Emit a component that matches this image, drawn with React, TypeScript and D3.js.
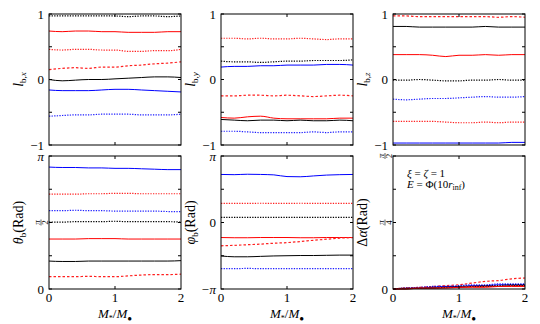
import React from 'react';
import * as d3 from 'd3';

// sample positions along M*/M•
const massRatio = [0, 0.2, 0.4, 0.6, 0.8, 1.0, 1.2, 1.4, 1.6, 1.8, 2.0];

// line styles: colour + dash
const STYLES: Record<string, { color: string; dash: string | null }> = {
  redSolid: { color: '#ff0000', dash: null },
  redDot: { color: '#ff2020', dash: '1.3,1.3' },
  redDash: { color: '#ff2020', dash: '2.5,2' },
  blackSolid: { color: '#000000', dash: null },
  blackDot: { color: '#000000', dash: '1.3,1.3' },
  blueSolid: { color: '#0000ff', dash: null },
  blueDot: { color: '#2020ff', dash: '1.3,1.3' },
};

const lbx = {
  blackDot: [0.97, 0.97, 0.97, 0.97, 0.97, 0.97, 0.96, 0.97, 0.97, 0.96, 0.97],
  redSolid: [0.74, 0.73, 0.74, 0.74, 0.73, 0.73, 0.72, 0.72, 0.72, 0.73, 0.73],
  redDot: [0.46, 0.45, 0.46, 0.46, 0.45, 0.45, 0.43, 0.43, 0.44, 0.44, 0.46],
  redDash: [0.15, 0.17, 0.18, 0.17, 0.19, 0.19, 0.21, 0.22, 0.24, 0.25, 0.27],
  blackSolid: [0.0, -0.02, -0.01, 0.0, 0.0, 0.01, 0.02, 0.03, 0.04, 0.04, 0.03],
  blueSolid: [-0.16, -0.17, -0.17, -0.17, -0.16, -0.15, -0.15, -0.16, -0.17, -0.18, -0.19],
  blueDot: [-0.56, -0.55, -0.54, -0.54, -0.53, -0.53, -0.53, -0.54, -0.54, -0.54, -0.53],
};

const lby = {
  redDot: [0.63, 0.63, 0.62, 0.63, 0.62, 0.62, 0.63, 0.62, 0.61, 0.62, 0.62],
  blackDot: [0.28, 0.27, 0.27, 0.26, 0.27, 0.28, 0.28, 0.29, 0.29, 0.29, 0.3],
  blueSolid: [0.19, 0.2, 0.2, 0.21, 0.21, 0.22, 0.22, 0.22, 0.23, 0.23, 0.22],
  redDash: [-0.25, -0.25, -0.24, -0.24, -0.25, -0.24, -0.25, -0.26, -0.25, -0.24, -0.25],
  redSolid: [-0.58, -0.59, -0.57, -0.56, -0.59, -0.6, -0.6, -0.6, -0.6, -0.59, -0.59],
  blackSolid: [-0.61, -0.62, -0.63, -0.62, -0.62, -0.63, -0.62, -0.63, -0.63, -0.62, -0.63],
  blueDot: [-0.79, -0.79, -0.8, -0.81, -0.81, -0.81, -0.81, -0.8, -0.81, -0.8, -0.8],
};

const lbz = {
  redDash: [0.97, 0.97, 0.96, 0.96, 0.96, 0.96, 0.96, 0.96, 0.95, 0.96, 0.95],
  blackSolid: [0.81, 0.81, 0.8, 0.8, 0.8, 0.8, 0.8, 0.81, 0.8, 0.8, 0.8],
  redSolid: [0.38, 0.38, 0.38, 0.37, 0.35, 0.37, 0.37, 0.38, 0.37, 0.38, 0.38],
  blackDot: [-0.01, -0.01, -0.0, -0.01, -0.02, -0.02, -0.01, -0.01, -0.0, -0.01, -0.01],
  blueDot: [-0.3, -0.31, -0.3, -0.29, -0.29, -0.28, -0.27, -0.26, -0.27, -0.27, -0.26],
  redDot: [-0.64, -0.64, -0.64, -0.64, -0.65, -0.66, -0.66, -0.65, -0.66, -0.65, -0.65],
  blueSolid: [-0.97, -0.97, -0.97, -0.97, -0.97, -0.97, -0.97, -0.97, -0.97, -0.96, -0.96],
};

// radians
const thetaB = {
  blueSolid: [2.88, 2.87, 2.87, 2.86, 2.86, 2.85, 2.85, 2.84, 2.83, 2.82, 2.82],
  redDot: [2.24, 2.24, 2.24, 2.25, 2.25, 2.26, 2.26, 2.25, 2.25, 2.25, 2.25],
  blueDot: [1.85, 1.85, 1.86, 1.85, 1.85, 1.84, 1.84, 1.84, 1.84, 1.83, 1.83],
  blackDot: [1.58, 1.58, 1.59, 1.59, 1.59, 1.6, 1.59, 1.59, 1.59, 1.59, 1.58],
  redSolid: [1.18, 1.18, 1.18, 1.19, 1.19, 1.19, 1.18, 1.18, 1.18, 1.18, 1.18],
  blackSolid: [0.66, 0.65, 0.65, 0.66, 0.66, 0.66, 0.66, 0.66, 0.66, 0.66, 0.67],
  redDash: [0.29, 0.29, 0.29, 0.3, 0.29, 0.29, 0.31, 0.33, 0.34, 0.34, 0.35],
};

const phiB = {
  blueSolid: [2.27, 2.26, 2.28, 2.27, 2.25, 2.17, 2.16, 2.2, 2.24, 2.26, 2.27],
  redDot: [0.9, 0.9, 0.9, 0.91, 0.9, 0.9, 0.91, 0.9, 0.9, 0.9, 0.9],
  blackDot: [0.24, 0.24, 0.24, 0.24, 0.24, 0.24, 0.24, 0.24, 0.24, 0.24, 0.24],
  redSolid: [-0.71, -0.72, -0.72, -0.71, -0.71, -0.71, -0.72, -0.72, -0.71, -0.71, -0.71],
  redDash: [-1.1, -1.08, -1.05, -1.02, -0.98, -0.95, -0.9, -0.84, -0.79, -0.74, -0.71],
  blackSolid: [-1.58, -1.62, -1.62, -1.6, -1.58, -1.57, -1.56, -1.56, -1.55, -1.54, -1.54],
  blueDot: [-2.18, -2.18, -2.17, -2.18, -2.18, -2.18, -2.18, -2.18, -2.18, -2.18, -2.18],
};

const deltaAlpha = {
  redDash: [0.0, 0.01, 0.02, 0.03, 0.04, 0.05, 0.07, 0.09, 0.1, 0.12, 0.13],
  blueDot: [0.0, 0.01, 0.02, 0.03, 0.03, 0.04, 0.05, 0.05, 0.06, 0.06, 0.06],
  blueSolid: [0.0, 0.01, 0.01, 0.02, 0.03, 0.03, 0.04, 0.04, 0.05, 0.05, 0.05],
  blackDot: [0.0, 0.01, 0.01, 0.02, 0.02, 0.03, 0.03, 0.04, 0.04, 0.05, 0.05],
  blackSolid: [0.0, 0.0, 0.01, 0.01, 0.02, 0.02, 0.03, 0.03, 0.03, 0.04, 0.04],
  redDot: [0.0, 0.01, 0.01, 0.01, 0.02, 0.02, 0.03, 0.03, 0.03, 0.04, 0.04],
  redSolid: [0.0, 0.0, 0.01, 0.01, 0.01, 0.02, 0.02, 0.02, 0.03, 0.03, 0.03],
};

const PI = Math.PI;
const FONT = '"Liberation Serif", "DejaVu Serif", serif';

const COLS = [49, 221, 393];
const PW = 132;
const ROWS = [{ y0: 14, h: 131 }, { y0: 156, h: 133 }];

type TickLabel = { v: number; text: string; frac?: boolean };

const Frac = ({ x, y, num, den }: { x: number; y: number; num: string; den: string }) => (
  <g transform={`translate(${x},${y}) rotate(-90)`} fontFamily={FONT} fontSize={9}>
    <text x={0} y={-1.5} textAnchor="middle" fontStyle="italic">{num}</text>
    <line x1={-3} x2={3} y1={0} y2={0} stroke="#000" strokeWidth={0.6} />
    <text x={0} y={7} textAnchor="middle">{den}</text>
  </g>
);

const Panel = ({ col, row, domain, ticks, labels, data, ylabel, xlabel }: any) => {
  const x0 = COLS[col];
  const { y0, h } = ROWS[row];
  const x = d3.scaleLinear().domain([0, 2]).range([x0, x0 + PW]);
  const y = d3.scaleLinear().domain(domain).range([y0 + h, y0]);
  const line = d3.line<number>().x((_, i) => x(massRatio[i])).y(d => y(d)).curve(d3.curveMonotoneX);
  return (
    <g>
      {Object.entries(data).map(([k, vals]: any) => (
        <path key={k} d={line(vals) || ''} fill="none" stroke={STYLES[k].color}
          strokeWidth={STYLES[k].dash ? 1.2 : 1} strokeDasharray={STYLES[k].dash || undefined} />
      ))}
      <rect x={x0} y={y0} width={PW} height={h} fill="none" stroke="#000" strokeWidth={1} />
      {[1].map(v => (
        <g key={v}>
          <line x1={x(v)} x2={x(v)} y1={y0 + h} y2={y0 + h - 3} stroke="#000" />
          <line x1={x(v)} x2={x(v)} y1={y0} y2={y0 + 3} stroke="#000" />
        </g>
      ))}
      {ticks.map((v: number) => (
        <g key={v}>
          <line x1={x0} x2={x0 + 3} y1={y(v)} y2={y(v)} stroke="#000" />
          <line x1={x0 + PW} x2={x0 + PW - 3} y1={y(v)} y2={y(v)} stroke="#000" />
        </g>
      ))}
      {labels.map((l: TickLabel) => l.frac ? (
        <Frac key={l.text} x={x0 - 8} y={y(l.v)} num="π" den={l.text} />
      ) : (
        <text key={l.text} x={x0 - 5} y={y(l.v) + 4.5} textAnchor="end" fontFamily={FONT}
          fontSize={13} fontStyle={l.text.includes('π') ? 'italic' : 'normal'}>{l.text}</text>
      ))}
      <text transform={`translate(${x0 - 26},${y0 + h / 2}) rotate(-90)`} textAnchor="middle"
        fontFamily={FONT} fontSize={14}>{ylabel}</text>
      {xlabel && (
        <g fontFamily={FONT} fontSize={13}>
          {[0, 1, 2].map(v => (
            <text key={v} x={x(v)} y={y0 + h + 13} textAnchor="middle">{v}</text>
          ))}
          <text x={x0 + PW / 2} y={y0 + h + 29} textAnchor="middle">
            <tspan fontStyle="italic">M</tspan><tspan fontSize={8} dy={3}>*</tspan>
            <tspan dy={-3}>/</tspan><tspan fontStyle="italic">M</tspan>
            <tspan fontSize={8} dy={3}>●</tspan>
          </text>
        </g>
      )}
    </g>
  );
};

const lLabel = (s: string) => (
  <>
    <tspan fontStyle="italic">l</tspan>
    <tspan fontSize={9} dy={3}>b,</tspan><tspan fontSize={9} fontStyle="italic">{s}</tspan>
  </>
);

const radLabel = (sym: string, sub?: string) => (
  <>
    <tspan fontStyle={sym === 'Δα' ? 'normal' : 'italic'}>{sym === 'Δα' ? 'Δ' : sym}</tspan>
    {sym === 'Δα' && <tspan fontStyle="italic">α</tspan>}
    {sub && <tspan fontSize={9} dy={3}>{sub}</tspan>}
    <tspan dy={sub ? -3 : 0}>(Rad)</tspan>
  </>
);

const unitTicks = [-1, -0.5, 0, 0.5, 1];
const unitLabels: TickLabel[] = [{ v: 1, text: '1' }, { v: 0, text: '0' }, { v: -1, text: '−1' }];

export default function App() {
  return (
    <svg width={540} height={324} style={{ position: 'absolute', left: 0, top: 0, background: '#fff' }}>
      <Panel col={0} row={0} domain={[-1, 1]} ticks={unitTicks} labels={unitLabels} data={lbx} ylabel={lLabel('x')} />
      <Panel col={1} row={0} domain={[-1, 1]} ticks={unitTicks} labels={unitLabels} data={lby} ylabel={lLabel('y')} />
      <Panel col={2} row={0} domain={[-1, 1]} ticks={unitTicks} labels={unitLabels} data={lbz} ylabel={lLabel('z')} />
      <Panel col={0} row={1} domain={[0, PI]} ticks={[0, PI / 4, PI / 2, 3 * PI / 4, PI]}
        labels={[{ v: PI, text: 'π' }, { v: PI / 2, text: '2', frac: true }, { v: 0, text: '0' }]}
        data={thetaB} ylabel={radLabel('θ', 'b')} xlabel />
      <Panel col={1} row={1} domain={[-PI, PI]} ticks={[-PI, -PI / 2, 0, PI / 2, PI]}
        labels={[{ v: PI, text: 'π' }, { v: 0, text: '0' }, { v: -PI, text: '−π' }]}
        data={phiB} ylabel={radLabel('φ', 'b')} xlabel />
      <Panel col={2} row={1} domain={[0, PI / 2]} ticks={[0, PI / 8, PI / 4, 3 * PI / 8, PI / 2]}
        labels={[{ v: PI / 2, text: '2', frac: true }, { v: PI / 4, text: '4', frac: true }, { v: 0, text: '0' }]}
        data={deltaAlpha} ylabel={radLabel('Δα')} xlabel />
      <g fontFamily={FONT} fontSize={11}>
        <text x={407} y={177}>
          <tspan fontStyle="italic">ξ</tspan> = <tspan fontStyle="italic">ζ</tspan> = 1
        </text>
        <text x={407} y={188}>
          <tspan fontStyle="italic">E</tspan> = Φ(10<tspan fontStyle="italic">r</tspan>
          <tspan fontSize={8} dy={2}>inf</tspan><tspan dy={-2}>)</tspan>
        </text>
      </g>
    </svg>
  );
}
